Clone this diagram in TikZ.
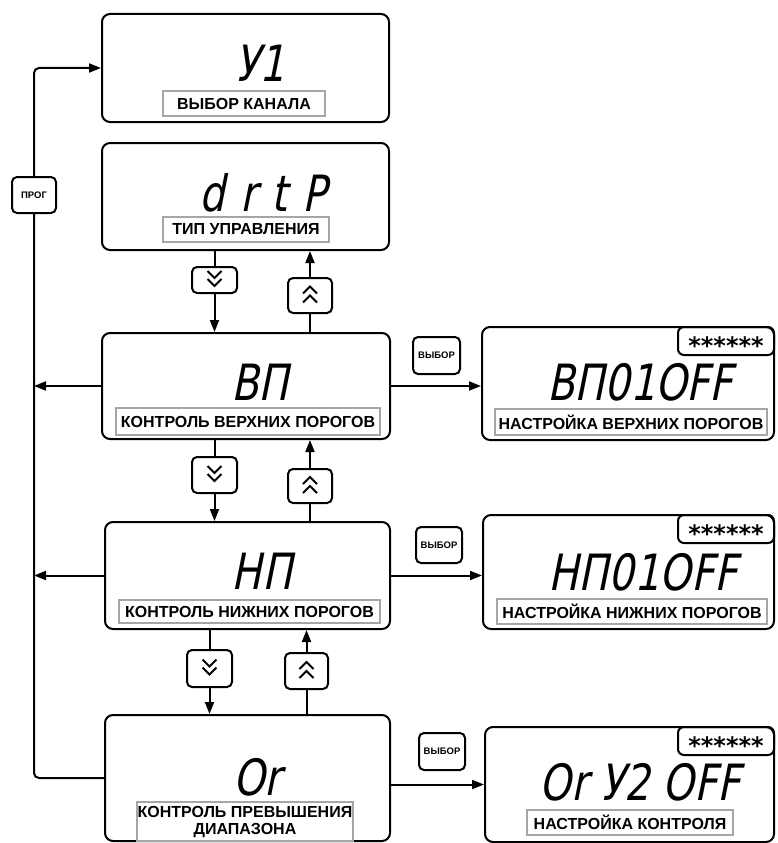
\documentclass[tikz,border=0pt]{standalone}
\usepackage{fontspec}
\setmainfont{Liberation Sans}
\newfontfamily\segfont{DejaVu Sans}[FakeSlant=0.2,FakeStretch=0.8]
\newfontfamily\starfont{DejaVu Sans}
\usetikzlibrary{arrows.meta}

\begin{document}
\begin{tikzpicture}[x=1pt, y=-1pt,
	lcd/.style={draw, line width=2pt, rounded corners=8pt, inner sep=0pt},
	seg/.style={font=\segfont\fontsize{50}{50}\selectfont, inner sep=0pt},
	lcdtag/.style={draw=gray!70, line width=1.2pt, inner sep=0pt, align=center,
		font=\bfseries\fontsize{16}{17}\selectfont},
	btn/.style={draw, line width=2pt, rounded corners=5pt, minimum width=45pt,
		inner sep=0pt, font=\bfseries\fontsize{9.5}{10}\selectfont},
	startab/.style={draw, line width=2pt, rounded corners=6pt, minimum width=96pt,
		minimum height=28pt, inner sep=0pt, font=\starfont\bfseries\fontsize{24}{24}\selectfont},
	wire/.style={line width=2pt},
	arr/.style={wire, -{Triangle[length=12pt,width=9pt]}},
	chev/.style={line width=2pt, line join=miter}]
	\useasboundingbox (0,0) rectangle (777,843);
	% channel choice
	\node[lcd, minimum width=287pt, minimum height=108pt] (yi) at (245.5,68) {};
	\node[seg] (yitxt) at (260,63) {У1};
	\node[lcdtag, minimum width=162pt, minimum height=25pt] (yitag) at (244,103.5) {ВЫБОР КАНАЛА};
	% control type
	\node[lcd, minimum width=287pt, minimum height=107pt] (drtp) at (245.5,196.5) {};
	\node[seg] (drtptxt) at (263,193) {\addfontfeature{LetterSpace=30}drtP};
	\node[lcdtag, minimum width=166pt, minimum height=25pt] (drtptag) at (246,229.5) {ТИП УПРАВЛЕНИЯ};
	% upper thresholds
	\node[lcd, minimum width=288pt, minimum height=106pt] (vp) at (246,386) {};
	\node[seg] (vptxt) at (260,382) {ВП};
	\node[lcdtag, minimum width=264pt, minimum height=27pt] (vptag) at (248,421.5) {КОНТРОЛЬ ВЕРХНИХ ПОРОГОВ};
	% lower thresholds
	\node[lcd, minimum width=285pt, minimum height=107pt] (np) at (247.5,575.5) {};
	\node[seg] (nptxt) at (262,571) {НП};
	\node[lcdtag, minimum width=261pt, minimum height=23pt] (nptag) at (249.5,611.5) {КОНТРОЛЬ НИЖНИХ ПОРОГОВ};
	% range overrun
	\node[lcd, minimum width=285pt, minimum height=126pt] (orr) at (247.5,778) {};
	\node[seg] (orrtxt) at (257,777) {Or};
	\node[lcdtag, minimum width=216pt, minimum height=39pt] (orrtag) at (245,821.5)
	{КОНТРОЛЬ ПРЕВЫШЕНИЯ\\ДИАПАЗОНА};
	% settings screens
	\node[lcd, minimum width=292pt, minimum height=113pt] (vpset) at (628,383.5) {};
	\node[startab, anchor=north east] (vpstar) at (vpset.north east) {\smash{\raisebox{-13pt}{******}}};
	\node[seg] (vpsettxt) at (640,382) {ВП01OFF};
	\node[lcdtag, minimum width=272pt, minimum height=26pt] (vpsettag) at (631,422) {НАСТРОЙКА ВЕРХНИХ ПОРОГОВ};
	\node[lcd, minimum width=291pt, minimum height=114pt] (npset) at (628.5,572) {};
	\node[startab, anchor=north east] (npstar) at (npset.north east) {\smash{\raisebox{-13pt}{******}}};
	\node[seg] (npsettxt) at (643,572) {НП01OFF};
	\node[lcdtag, minimum width=270pt, minimum height=25pt] (npsettag) at (632,611.5) {НАСТРОЙКА НИЖНИХ ПОРОГОВ};
	\node[lcd, minimum width=289pt, minimum height=115pt] (orset) at (629.5,784.5) {};
	\node[startab, anchor=north east] (orstar) at (orset.north east) {\smash{\raisebox{-13pt}{******}}};
	\node[seg] (orsettxt) at (640,782) {Or У2 OFF};
	\node[lcdtag, minimum width=206pt, minimum height=25pt] (orsettag) at (630,822.5) {НАСТРОЙКА КОНТРОЛЯ};
	% keys
	\node[btn, minimum width=44pt, minimum height=36pt] (prog) at (34,195) {ПРОГ};
	\node[btn, minimum width=47pt, minimum height=37pt] (sel1) at (436.5,355.5) {ВЫБОР};
	\node[btn, minimum width=46pt, minimum height=36pt] (sel2) at (439,545) {ВЫБОР};
	\node[btn, minimum width=46pt, minimum height=37pt] (sel3) at (442,751.5) {ВЫБОР};
	\node[btn, minimum height=26pt] (dn1) at (214.5,280) {};
	\node[btn, minimum width=44pt, minimum height=35pt] (up1) at (310,295.5) {};
	\node[btn, minimum height=36pt] (dn2) at (214.5,475) {};
	\node[btn, minimum width=44pt, minimum height=34pt] (up2) at (310,486) {};
	\node[btn, minimum height=37pt] (dn3) at (209.5,668.5) {};
	\node[btn, minimum width=43pt, minimum height=36pt] (up3) at (306.5,671) {};
	\foreach \b in {dn1,dn2,dn3} {
		\draw[chev] ([shift={(-7,-9)}]\b.center) -- ++(7,7) -- ++(7,-7);
		\draw[chev] ([shift={(-7,-1)}]\b.center) -- ++(7,7) -- ++(7,-7);
	}
	\foreach \b in {up1,up2,up3} {
		\draw[chev] ([shift={(-7,-2)}]\b.center) -- ++(7,-7) -- ++(7,7);
		\draw[chev] ([shift={(-7,7)}]\b.center) -- ++(7,-7) -- ++(7,7);
	}
	% scrolling down and up
	\draw[wire] (dn1 |- drtp.south) -- (dn1.north);
	\draw[arr] (dn1.south) -- (dn1 |- vp.north);
	\draw[wire] (up1 |- vp.north) -- (up1.south);
	\draw[arr] (up1.north) -- (up1 |- drtp.south);
	\draw[wire] (dn2 |- vp.south) -- (dn2.north);
	\draw[arr] (dn2.south) -- (dn2 |- np.north);
	\draw[wire] (up2 |- np.north) -- (up2.south);
	\draw[arr] (up2.north) -- (up2 |- vp.south);
	\draw[wire] (dn3 |- np.south) -- (dn3.north);
	\draw[arr] (dn3.south) -- (dn3 |- orr.north);
	\draw[wire] (up3 |- orr.north) -- (up3.south);
	\draw[arr] (up3.north) -- (up3 |- np.south);
	% back to channel choice
	\draw[wire, rounded corners=5pt] (orr.west) -| (prog.south);
	\draw[arr, rounded corners=5pt] (prog.north) |- (yi.west);
	\draw[arr] (vp.west) -- (vp.west -| prog);
	\draw[arr] (np.west) -- (np.west -| prog);
	% into the settings
	\draw[arr] (vp.east) -- (vp.east -| vpset.west);
	\draw[arr] (np.east) -- (np.east -| npset.west);
	\draw[arr] (orr.east |- orset.west) -- (orset.west);
\end{tikzpicture}
\end{document}
